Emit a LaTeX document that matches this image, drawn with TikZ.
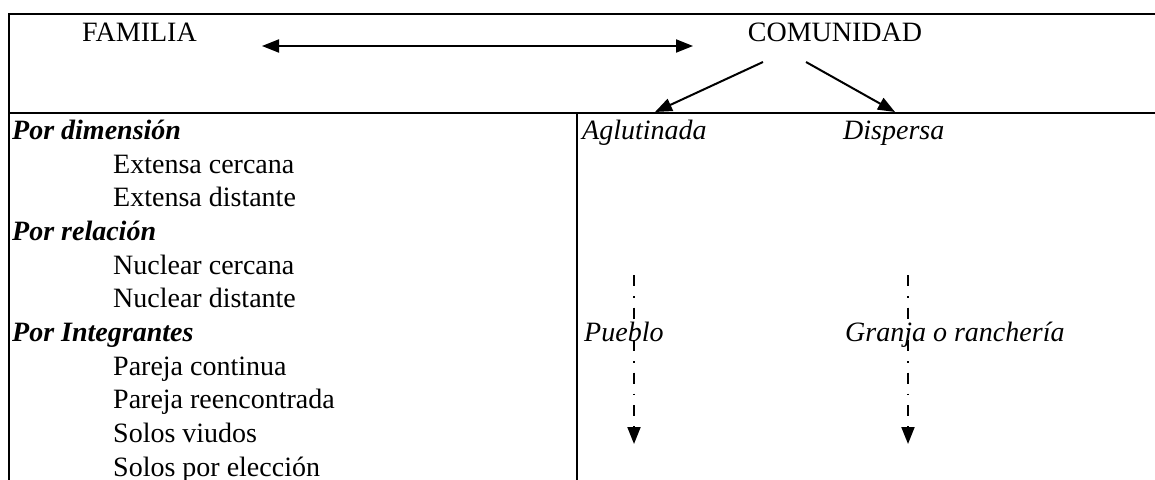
\documentclass[tikz,border=0pt]{standalone}
\usepackage{fontspec}
\setmainfont{Liberation Serif}
\usetikzlibrary{arrows.meta}
\tikzset{
  rule/.style={line width=2.2pt, line cap=rect},
  txt/.style={anchor=base west, inner sep=0pt, font=\fontsize{28}{34}\selectfont},
  head/.style={txt, font=\fontsize{28}{34}\selectfont\bfseries\itshape},
  itl/.style={txt, font=\fontsize{28}{34}\selectfont\itshape},
  title/.style={anchor=base, inner sep=0pt, font=\fontsize{28}{34}\selectfont},
  link/.style={line width=2pt, -{Triangle[length=17pt,width=13pt]}},
  both/.style={line width=2pt, {Triangle[length=17pt,width=13pt]}-{Triangle[length=17pt,width=13pt]}},
  flow/.style={line width=2pt, dash pattern=on 11pt off 10pt on 1.5pt off 10pt,
               -{Triangle[length=17pt,width=13pt]}}
}
\begin{document}
\begin{tikzpicture}[x=1pt,y=-1pt]
  \useasboundingbox (0,0) rectangle (1155,479);

  % table rules
  \draw[rule] (9,14) -- (1160,14);
  \draw[rule] (9,14) -- (9,485);
  \draw[rule] (9,113) -- (1160,113);
  \draw[rule] (577,113) -- (577,485);

  % header row
  \node[title] (fam) at (139.5,41) {FAMILIA};
  \node[title] (com) at (835,41) {COMUNIDAD};
  \coordinate (famR) at (262,46);
  \coordinate (comL) at (693,46);
  \draw[both] (famR) -- (comL);

  % left column
  \node[head] (dim)  at (12,139.3) {Por dimensión};
  \node[txt]  (ec)   at (113,173.0) {Extensa cercana};
  \node[txt]  (ed)   at (113,206.6) {Extensa distante};
  \node[head] (rel)  at (12,240.3) {Por relación};
  \node[txt]  (nc)   at (113,274.0) {Nuclear cercana};
  \node[txt]  (nd)   at (113,307.6) {Nuclear distante};
  \node[head] (int)  at (12,341.3) {Por Integrantes};
  \node[txt]  (pc)   at (113,375.0) {Pareja continua};
  \node[txt]  (pr)   at (113,408.6) {Pareja reencontrada};
  \node[txt]  (sv)   at (113,442.3) {Solos viudos};
  \node[txt]  (se)   at (113,476.0) {Solos por elección};

  % right column
  \node[itl] (agl) at (582,139.3) {Aglutinada};
  \node[itl] (dis) at (843,139.3) {Dispersa};
  \node[itl] (pue) at (584,341.3) {Pueblo};
  \node[itl] (gra) at (845,341.3) {Granja o ranchería};

  % branches from COMUNIDAD
  \coordinate (comA) at (763,62);
  \coordinate (comB) at (806,62);
  \coordinate (aglT) at (655,112);
  \coordinate (disT) at (895,112);
  \draw[link] (comA) -- (aglT);
  \draw[link] (comB) -- (disT);

  % downward dash-dot arrows
  \coordinate (pueTop) at (634,275);
  \coordinate (pueEnd) at (634,444);
  \coordinate (graTop) at (908,275);
  \coordinate (graEnd) at (908,444);
  \draw[flow] (pueTop) -- (pueEnd);
  \draw[flow] (graTop) -- (graEnd);
\end{tikzpicture}
\end{document}
